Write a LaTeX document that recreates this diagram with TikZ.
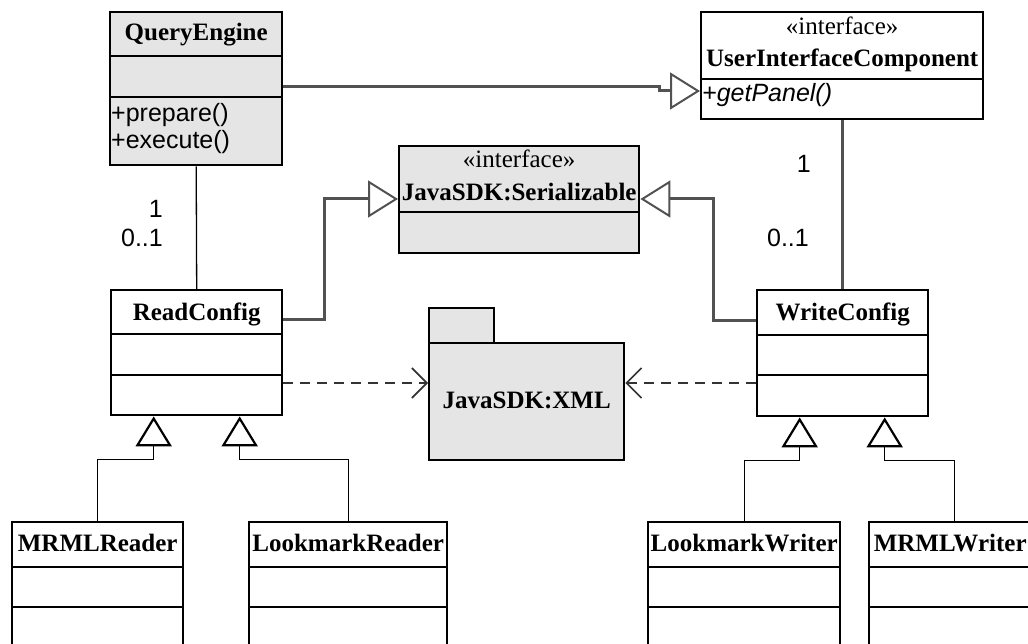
\documentclass[tikz,border=0pt]{standalone}
\usepackage{fontspec}
\setmainfont{Liberation Serif}
\setsansfont{Liberation Sans}
\usetikzlibrary{arrows.meta,calc,positioning}

\begin{document}
\begin{tikzpicture}[x=1pt,y=-1pt,
    every node/.style={font=\fontsize{25}{28}\selectfont},
    box/.style={draw,line width=2.4pt,anchor=north west,inner sep=0pt},
    greybox/.style={box,fill=black!10},
    title/.style={anchor=base,inner sep=0pt,font=\fontsize{25}{28}\selectfont\bfseries},
    stereo/.style={anchor=base,inner sep=0pt},
    member/.style={anchor=base west,inner sep=0pt,font=\fontsize{25}{28}\selectfont\sffamily},
    mult/.style={anchor=base east,inner sep=0pt,font=\fontsize{25}{28}\selectfont\sffamily},
    realize/.style={line width=3pt,draw=black!68,
      -{Triangle[open,length=30pt,width=37pt,line width=2pt]}},
    assoc/.style={line width=3pt,draw=black!68},
    depend/.style={line width=1.6pt,draw=black!80,dash pattern=on 10pt off 7pt,
      -{Straight Barb[length=15pt,width=30pt,line width=1.6pt]}},
    inherit/.style={line width=1.3pt,
      -{Triangle[open,length=30pt,width=36pt,line width=2.2pt]}}]
  \useasboundingbox (0,0) rectangle (1028,644);
  \clip (0,0) rectangle (1028,644);

  \node[greybox,minimum width=172pt,minimum height=153pt] (qe) at (109,11) {};
  \draw[line width=2.4pt] ($(qe.north west)+(0,45)$) -- ++(172,0);
  \draw[line width=2.4pt] ($(qe.north west)+(0,86)$) -- ++(172,0);
  \node[title] (qename) at ($(qe.north)+(0,30)$) {QueryEngine};
  \node[member] (qeprep) at ($(qe.north west)+(2,111)$) {+prepare()};
  \node[member] (qeexec) at ($(qe.north west)+(2,138)$) {+execute()};

  \node[box,minimum width=282pt,minimum height=107pt] (uic) at (700,11) {};
  \draw[line width=2.4pt] ($(uic.north west)+(0,68)$) -- ++(282,0);
  \node[stereo] (uicst) at ($(uic.north)+(0,24)$) {«interface»};
  \node[title] (uicname) at ($(uic.north)+(0,56)$) {UserInterfaceComponent};
  \node[member,font=\fontsize{25}{28}\selectfont\sffamily\itshape] (uicpanel)
    at ($(uic.north west)+(2,91)$) {+getPanel()};

  \node[greybox,minimum width=240pt,minimum height=107pt] (ser) at (398,145) {};
  \draw[line width=2.4pt] ($(ser.north west)+(0,67)$) -- ++(240,0);
  \node[stereo] (serst) at ($(ser.north)+(0,23)$) {«interface»};
  \node[title] (sername) at ($(ser.north)+(0,56)$) {JavaSDK:Serializable};

  \node[box,minimum width=171pt,minimum height=125pt] (rc) at (110,289) {};
  \draw[line width=2.4pt] ($(rc.north west)+(0,45)$) -- ++(171,0);
  \draw[line width=2.4pt] ($(rc.north west)+(0,86)$) -- ++(171,0);
  \node[title] (rcname) at ($(rc.north)+(0,31)$) {ReadConfig};

  \node[box,minimum width=171pt,minimum height=126pt] (wc) at (756,289) {};
  \draw[line width=2.4pt] ($(wc.north west)+(0,46)$) -- ++(171,0);
  \draw[line width=2.4pt] ($(wc.north west)+(0,86)$) -- ++(171,0);
  \node[title] (wcname) at ($(wc.north)+(0,31)$) {WriteConfig};

  \node[greybox,minimum width=65pt,minimum height=35pt] (xmltab) at (428,307) {};
  \node[greybox,minimum width=195pt,minimum height=117pt] (xml) at (428,342) {};
  \node[title] (xmlname) at ($(xml.north)+(0,66)$) {JavaSDK:XML};

  \node[box,minimum width=171pt,minimum height=126pt] (mr) at (11,521) {};
  \node[box,minimum width=198pt,minimum height=126pt] (lr) at (248,521) {};
  \node[box,minimum width=192pt,minimum height=126pt] (lw) at (647,521) {};
  \node[box,minimum width=170pt,minimum height=126pt] (mw) at (868,521) {};
  \foreach \c/\w in {mr/171,lr/198,lw/192,mw/170}{
    \draw[line width=2.4pt] ($(\c.north west)+(0,46)$) -- ++(\w,0);
    \draw[line width=2.4pt] ($(\c.north west)+(0,86)$) -- ++(\w,0);
  }
  \node[title] (mrname) at ($(mr.north)+(0,30)$) {MRMLReader};
  \node[title] (lrname) at ($(lr.north)+(0,30)$) {LookmarkReader};
  \node[title] (lwname) at ($(lw.north)+(0,30)$) {LookmarkWriter};
  \node[title] (mwname) at ($(mw.north)+(-4,30)$) {MRMLWriter};

  \draw[realize] ($(qe.north east)+(0,76)$) -- ++(376,0) -- ++(0,4)
    -- ($(uic.north west)+(0,80)$);
  \draw[line width=1.3pt] (qe.south) -- (rc.north);
  \node[mult] (qemult) at (163,218) {1};
  \node[mult] (rcmult) at (163,247) {0..1};

  \draw[assoc] (wc.north |- uic.south) -- (wc.north);
  \node[mult] (uicmult) at (811,173) {1};
  \node[mult] (wcmult) at (809,247) {0..1};

  \draw[realize] ($(rc.north east)+(0,31)$) -- ++(41,0) |- ($(ser.north west)+(0,54)$);
  \draw[realize] ($(wc.north west)+(0,32)$) -- ++(-43,0) |- ($(ser.north east)+(0,54)$);

  \draw[depend] ($(rc.north east)+(0,94)$) -- ($(xml.north west)+(0,41)$);
  \draw[depend] ($(wc.north west)+(0,94)$) -- ($(xml.north east)+(0,41)$);

  \draw[inherit] (mr.north) |- ($(rc.south)+(-43,43)$) -- ($(rc.south)+(-43,0)$);
  \draw[inherit] (lr.north) |- ($(rc.south)+(43,43)$) -- ($(rc.south)+(43,0)$);
  \draw[inherit] (lw.north) |- ($(wc.south)+(-43,43)$) -- ($(wc.south)+(-43,0)$);
  \draw[inherit] (mw.north) |- ($(wc.south)+(42,43)$) -- ($(wc.south)+(42,0)$);
\end{tikzpicture}
\end{document}
